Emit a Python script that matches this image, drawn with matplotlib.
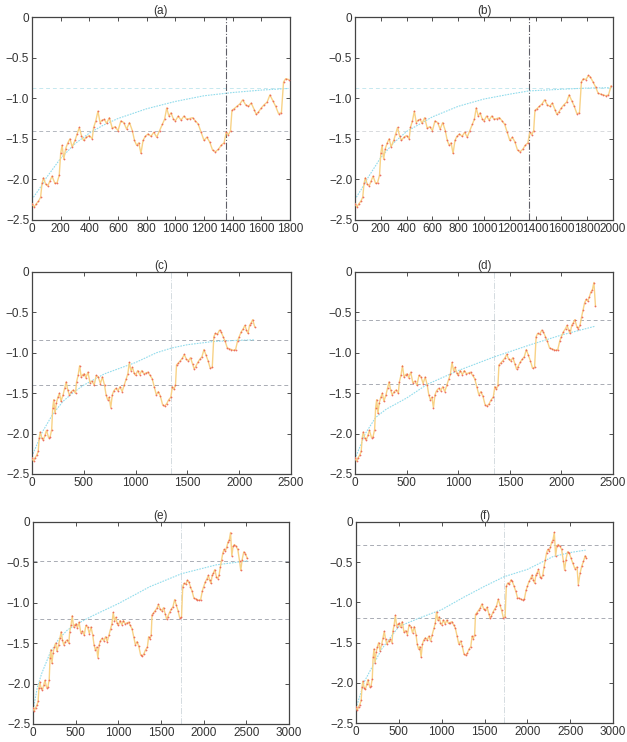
import matplotlib
matplotlib.use("Agg")
import matplotlib.pyplot as plt
from matplotlib.ticker import FuncFormatter

plt.rcParams['font.family'] = ['Liberation Sans', 'DejaVu Sans']
plt.rcParams['font.size'] = 8.5

# observed record (step, value)
steps = [0, 15, 30, 45, 60, 70, 80, 95, 110, 125, 140, 160, 175, 190, 200, 210, 222, 235,
         250, 265, 280, 300, 315, 330, 345, 360, 380, 400, 420, 430, 445, 460, 475, 490,
         505, 520, 540, 560, 580, 600, 620, 640, 660, 680, 700, 715, 730, 745, 760, 775,
         790, 810, 830, 850, 870, 890, 910, 925, 940, 955, 970, 985, 1000, 1020, 1040,
         1060, 1080, 1100, 1120, 1140, 1160, 1180, 1200, 1220, 1240, 1260, 1280, 1300,
         1320, 1340, 1355, 1370, 1385, 1395, 1410, 1430, 1450, 1470, 1490, 1510, 1530,
         1550, 1565, 1580, 1600, 1620, 1640, 1660, 1680, 1700, 1720, 1740, 1755, 1770,
         1790, 1810, 1825, 1845, 1865, 1885, 1905, 1925, 1945, 1965, 1985, 2000, 2020,
         2040, 2055, 2070, 2085, 2100, 2115, 2130, 2150, 2165, 2180, 2195, 2210, 2225,
         2240, 2255, 2270, 2285, 2300, 2315, 2330, 2345, 2360, 2380, 2400, 2420, 2435,
         2450, 2470, 2490, 2510, 2530, 2555, 2580, 2595, 2615, 2635, 2655, 2675, 2690]
values = [-2.30, -2.34, -2.30, -2.27, -2.22, -2.05, -1.98, -2.06, -2.08, -2.02, -1.96, -2.05,
          -2.04, -1.95, -1.68, -1.58, -1.75, -1.62, -1.55, -1.50, -1.60, -1.52, -1.44, -1.36,
          -1.46, -1.52, -1.48, -1.46, -1.50, -1.36, -1.28, -1.16, -1.30, -1.27, -1.26, -1.31,
          -1.24, -1.37, -1.35, -1.40, -1.28, -1.30, -1.38, -1.30, -1.40, -1.52, -1.58, -1.55,
          -1.68, -1.52, -1.47, -1.44, -1.47, -1.42, -1.48, -1.40, -1.32, -1.26, -1.12, -1.22,
          -1.18, -1.25, -1.28, -1.22, -1.27, -1.22, -1.26, -1.25, -1.24, -1.28, -1.32, -1.42,
          -1.52, -1.48, -1.54, -1.64, -1.66, -1.63, -1.58, -1.55, -1.42, -1.45, -1.40, -1.15,
          -1.13, -1.10, -1.07, -1.02, -1.08, -1.10, -1.06, -1.14, -1.20, -1.17, -1.12, -1.08,
          -1.05, -0.96, -1.03, -1.10, -1.19, -1.18, -0.80, -0.76, -0.77, -0.72, -0.74, -0.80,
          -0.86, -0.94, -0.95, -0.96, -0.97, -0.96, -0.85, -0.80, -0.74, -0.70, -0.66, -0.72,
          -0.76, -0.66, -0.63, -0.59, -0.68, -0.70, -0.66, -0.56, -0.47, -0.38, -0.34, -0.36,
          -0.31, -0.25, -0.22, -0.13, -0.42, -0.30, -0.28, -0.30, -0.34, -0.48, -0.60, -0.47,
          -0.37, -0.39, -0.45, -0.51, -0.58, -0.56, -0.78, -0.64, -0.55, -0.49, -0.42, -0.45]

labels = ['(a)', '(b)', '(c)', '(d)', '(e)', '(f)']
end_step = [1790, 1990, 2150, 2330, 2520, 2690]
x_max = [1800, 2000, 2500, 2500, 3000, 3000]
x_step = [200, 200, 500, 500, 500, 500]
split_step = [1350, 1350, 1345, 1348, 1740, 1732]
upper_level = [-0.88, -0.87, -0.84, -0.60, -0.48, -0.29]
lower_level = [-1.40, -1.40, -1.40, -1.39, -1.20, -1.20]

# fitted trend for each panel
fit_a_t = [10, 50, 100, 200, 300, 400, 500, 600, 800, 1000, 1200, 1400, 1600, 1790]
fit_a_v = [-2.22, -2.12, -1.98, -1.74, -1.56, -1.43, -1.33, -1.25, -1.13, -1.04, -0.97, -0.93, -0.90, -0.88]
fit_b_t = [10, 50, 100, 200, 300, 400, 600, 800, 1000, 1200, 1350, 1600, 1800, 1990]
fit_b_v = [-2.22, -2.12, -1.98, -1.73, -1.55, -1.41, -1.23, -1.10, -1.01, -0.95, -0.91, -0.89, -0.875, -0.87]
fit_c_t = [10, 100, 200, 300, 400, 500, 700, 1000, 1200, 1350, 1500, 1750, 2000, 2150]
fit_c_v = [-2.25, -1.98, -1.76, -1.60, -1.49, -1.40, -1.26, -1.12, -1.00, -0.94, -0.90, -0.86, -0.845, -0.84]
fit_d_t = [10, 100, 200, 300, 500, 700, 1000, 1350, 1700, 2000, 2330]
fit_d_v = [-2.28, -2.00, -1.80, -1.70, -1.56, -1.39, -1.22, -1.05, -0.90, -0.78, -0.67]
fit_e_t = [10, 50, 100, 200, 300, 400, 500, 700, 1000, 1370, 1740, 2150, 2520]
fit_e_v = [-2.28, -2.05, -1.88, -1.62, -1.45, -1.34, -1.27, -1.16, -1.01, -0.80, -0.64, -0.53, -0.48]
fit_f_t = [10, 100, 200, 300, 500, 750, 1000, 1250, 1500, 1730, 2000, 2300, 2500, 2680]
fit_f_v = [-2.28, -1.98, -1.78, -1.58, -1.30, -1.19, -1.09, -0.94, -0.80, -0.68, -0.59, -0.43, -0.38, -0.35]
fits = [(fit_a_t, fit_a_v), (fit_b_t, fit_b_v), (fit_c_t, fit_c_v),
        (fit_d_t, fit_d_v), (fit_e_t, fit_e_v), (fit_f_t, fit_f_v)]

W, H = 627, 742
fig = plt.figure(figsize=(W / 100, H / 100), dpi=100)

boxes = [(32, 17, 290, 220), (355, 17, 613, 220),
         (32, 272, 291, 474), (355, 272, 613, 474),
         (33, 522, 289, 724), (356, 522, 613, 723)]

line_col = '#f8d286'
dot_col = '#ea5a4e'
fit_col = '#92dcec'

for i, (x0, y0, x1, y1) in enumerate(boxes):
    ax = fig.add_axes([x0 / W, 1 - y1 / H, (x1 - x0) / W, (y1 - y0) / H])
    n = sum(1 for s in steps if s <= end_step[i])
    ax.plot(steps[:n], values[:n], color=line_col, lw=1.0, zorder=3)
    ax.plot(steps[:n], values[:n], ls='none', marker='o', ms=1.3,
            mec='none', mfc=dot_col, alpha=0.85, zorder=4)
    ft, fv = fits[i]
    ax.plot(ft, fv, color=fit_col, lw=0.8, ls=(0, (1.5, 1)), zorder=2)

    if i < 2:
        ax.axhline(upper_level[i], color='#c6e8ef', lw=0.7, ls=(0, (4, 3)), zorder=1)
        ax.axhline(lower_level[i], color='#b4b8c0' if i == 0 else '#d8dadd',
                   lw=0.7, ls=(0, (4, 3)), zorder=1)
        ax.axvline(split_step[i], color='#5f5f68', lw=0.8, ls='-.', zorder=1)
    else:
        ax.axhline(upper_level[i], color='#a9acb4', lw=0.7, ls=(0, (4, 3)), zorder=1)
        ax.axhline(lower_level[i], color='#a9acb4', lw=0.7, ls=(0, (4, 3)), zorder=1)
        ax.axvline(split_step[i], color='#d4dbe0', lw=0.7, ls='-.', zorder=1)

    ax.set_xlim(0, x_max[i])
    ax.set_ylim(-2.5, 0)
    ax.set_xticks(range(0, x_max[i] + 1, x_step[i]))
    ax.set_yticks([-2.5, -2.0, -1.5, -1.0, -0.5, 0])
    ax.yaxis.set_major_formatter(FuncFormatter(lambda v, p: '0' if v == 0 else f'{v:.1f}'.replace('-', '\u2212')))
    ax.tick_params(direction='in', top=True, right=True, length=3, width=0.6,
                   labelsize=8.5, pad=2, colors='#333333')
    for sp in ax.spines.values():
        sp.set_color('#444444')
        sp.set_linewidth(0.9)
    ax.set_title(labels[i], fontsize=8.5, pad=2, color='#333333')

fig.savefig('out.png', dpi=100)
